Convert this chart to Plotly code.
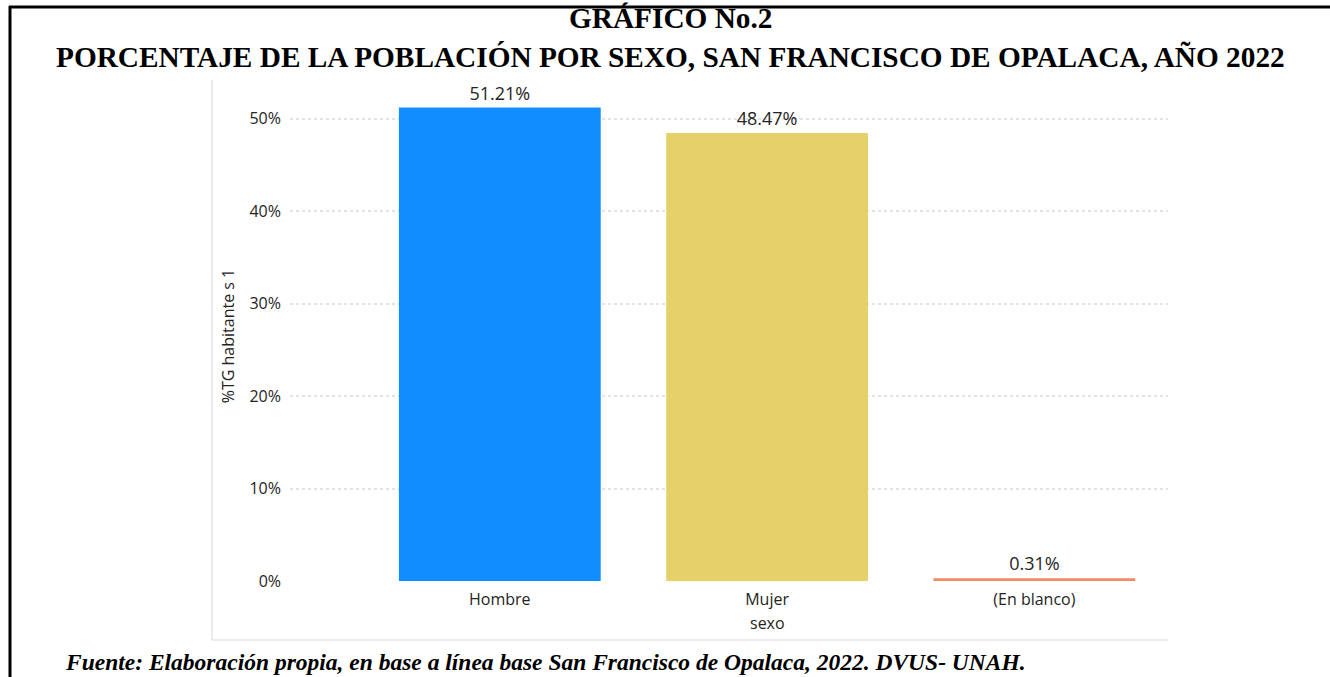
import plotly.graph_objects as go

categories = ["Hombre", "Mujer", "(En blanco)"]
values = [0.5121, 0.4847, 0.0031]
labels = ["51.21%", "48.47%", "0.31%"]
colors = ["#118DFF", "#E6D06A", "#F08A65"]
y_ticks = [0, 0.1, 0.2, 0.3, 0.4, 0.5]
y_ticklabels = ["0%", "10%", "20%", "30%", "40%", "50%"]

W, H = 1330, 677
ML, MR, MT, MB = 290, 162, 91, 96
PW, PH = W - ML - MR, H - MT - MB


def px(x):
    return (x - ML) / PW


def py(y):
    return (H - MB - y) / PH


font_ui = "Segoe UI, Open Sans, Noto Sans, sans-serif"
serif = "Liberation Serif, Times New Roman, serif"

fig = go.Figure()
fig.add_trace(go.Bar(
    x=categories, y=values, marker=dict(color=colors, line=dict(width=0)),
    width=0.755, text=labels, textposition="outside", cliponaxis=False,
    textfont=dict(family=font_ui, size=18, color="#252423"),
    hoverinfo="x+y",
))

fig.update_layout(
    width=W, height=H, margin=dict(l=ML, r=MR, t=MT, b=MB, pad=0),
    plot_bgcolor="white", paper_bgcolor="white", showlegend=False,
    xaxis=dict(range=[-0.785, 2.5], showgrid=False, zeroline=False, showline=False,
               tickfont=dict(family=font_ui, size=16, color="#252423"), ticks="",
               ticklabelstandoff=7),
    yaxis=dict(range=[0, 0.53], tickvals=y_ticks, ticktext=y_ticklabels,
               showgrid=True, gridcolor="#E3E3E3", griddash="dot", gridwidth=1.5,
               zeroline=False, showline=False, ticks="", ticklabelstandoff=8,
               tickfont=dict(family=font_ui, size=16, color="#252423"),
               title=dict(text="%TG habitante s 1", standoff=10,
                          font=dict(family=font_ui, size=16, color="#252423"))),
    annotations=[
        dict(text="<b>GRÁFICO No.2</b>", xref="paper", yref="paper", x=px(670), y=py(18),
             xanchor="center", yanchor="middle", showarrow=False,
             font=dict(family=serif, size=29.3, color="black")),
        dict(text="<b>PORCENTAJE DE LA POBLACIÓN POR SEXO, SAN FRANCISCO DE OPALACA, AÑO 2022</b>",
             xref="paper", yref="paper", x=px(670), y=py(57),
             xanchor="center", yanchor="middle", showarrow=False,
             font=dict(family=serif, size=29.3, color="black")),
        dict(text="sexo", xref="x", yref="paper", x=1, y=py(623),
             xanchor="center", yanchor="middle", showarrow=False,
             font=dict(family=font_ui, size=16, color="#252423")),
        dict(text="<b><i>Fuente: Elaboración propia, en base a línea base San Francisco de Opalaca, 2022. DVUS- UNAH.</i></b>",
             xref="paper", yref="paper", x=px(63), y=py(662),
             xanchor="left", yanchor="middle", showarrow=False,
             font=dict(family=serif, size=23.5, color="black")),
    ],
    shapes=[
        dict(type="line", xref="paper", yref="paper", x0=px(9), x1=px(1332), y0=py(7), y1=py(7),
             line=dict(color="black", width=3)),
        dict(type="line", xref="paper", yref="paper", x0=px(10), x1=px(10), y0=py(6), y1=py(680),
             line=dict(color="black", width=3)),
        dict(type="line", xref="paper", yref="paper", x0=px(212), x1=px(212), y0=py(80), y1=py(640),
             line=dict(color="#E6E6E6", width=1.5)),
        dict(type="line", xref="paper", yref="paper", x0=px(212), x1=px(1168), y0=py(640), y1=py(640),
             line=dict(color="#E6E6E6", width=1.5)),
    ],
)

fig.write_html("out.html", config={"displayModeBar": False},
               post_script="document.body.style.margin='0';document.body.style.overflow='hidden';")
